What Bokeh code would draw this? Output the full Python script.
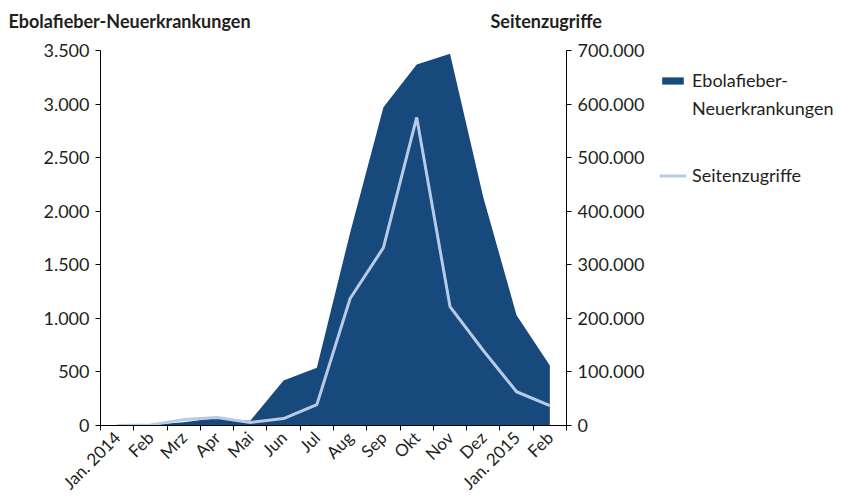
import math
from bokeh.plotting import figure
from bokeh.layouts import column, row
from bokeh.models import (Range1d, LinearAxis, FixedTicker, Legend, LegendItem, Label)
from bokeh.embed import file_html
from bokeh.resources import INLINE

months = ["Jan. 2014", "Feb", "Mrz", "Apr", "Mai", "Jun", "Jul", "Aug", "Sep",
          "Okt", "Nov", "Dez", "Jan. 2015", "Feb"]
cases = [0, 5, 30, 70, 45, 420, 540, 1800, 2970, 3370, 3470, 2130, 1030, 560]
views = [0, 1000, 11000, 15000, 5500, 13000, 39000, 237000, 332000, 575000,
         222000, 140000, 63000, 37000]
left_ticks = [0, 500, 1000, 1500, 2000, 2500, 3000, 3500]
left_labels = ["0", "500", "1.000", "1.500", "2.000", "2.500", "3.000", "3.500"]
right_ticks = [0, 100000, 200000, 300000, 400000, 500000, 600000, 700000]
right_labels = ["0", "100.000", "200.000", "300.000", "400.000", "500.000",
                "600.000", "700.000"]
series_name_lines = ["Ebolafieber-", "Neuerkrankungen"]
series2_name = "Seitenzugriffe"
left_title = "Ebolafieber-Neuerkrankungen"
right_title = "Seitenzugriffe"

FONT = "Lato"
FS = "18px"
TXT = "#231f20"
AREA = "#18497d"
LINE = "#b7cbe6"
TOTAL_W = 838
TOP_H = 38

n = len(months)
xs = [i + 0.5 for i in range(n)]


def bare(fig):
    fig.outline_line_color = None
    fig.background_fill_color = "white"
    fig.border_fill_color = "white"
    fig.xgrid.visible = False
    fig.ygrid.visible = False


# ---- title strip -------------------------------------------------------
top = figure(width=TOTAL_W, height=TOP_H, output_backend="svg",
             toolbar_location=None, x_axis_type=None, y_axis_type=None,
             x_range=Range1d(0, 1), y_range=Range1d(0, 1),
             min_border=0)
bare(top)
top.add_layout(Label(x=8, y=TOP_H - 20, x_units="screen", y_units="screen",
                     text=left_title, text_font=FONT, text_baseline="alphabetic",
                     text_font_size=FS, text_font_style="bold", text_color=TXT))
top.add_layout(Label(x=490, y=TOP_H - 20, x_units="screen", y_units="screen",
                     text=right_title, text_font=FONT, text_baseline="alphabetic",
                     text_font_size=FS, text_font_style="bold", text_color=TXT))

# ---- main chart --------------------------------------------------------
p = figure(frame_width=466, frame_height=375, output_backend="svg",
           toolbar_location=None, x_range=Range1d(0, n),
           y_range=Range1d(left_ticks[0], left_ticks[-1]),
           min_border_left=100, min_border_top=12,
           min_border_bottom=70, min_border_right=80)
bare(p)
p.extra_y_ranges = {"views": Range1d(right_ticks[0], right_ticks[-1])}

area = p.varea(x=xs, y1=0, y2=cases, fill_color=AREA)
line = p.line(x=xs, y=views, y_range_name="views", line_color=LINE, line_width=3)

ya = p.yaxis[0]
ya.ticker = FixedTicker(ticks=left_ticks, minor_ticks=[])
ya.major_label_overrides = {t: l for t, l in zip(left_ticks, left_labels)}

ra = LinearAxis(y_range_name="views")
ra.ticker = FixedTicker(ticks=right_ticks, minor_ticks=[])
ra.major_label_overrides = {t: l for t, l in zip(right_ticks, right_labels)}
p.add_layout(ra, "right")

xa = p.xaxis[0]
xa.ticker = FixedTicker(ticks=xs, minor_ticks=list(range(n + 1)))
xa.major_label_overrides = {x: m for x, m in zip(xs, months)}
xa.major_label_orientation = math.pi / 4

for ax in (ya, ra, xa):
    ax.axis_line_color = "black"
    ax.axis_line_width = 1
    ax.major_label_text_font = FONT
    ax.major_label_text_font_size = FS
    ax.major_label_text_color = TXT
    ax.major_tick_in = 0
    ax.major_tick_out = 5
    ax.major_label_standoff = 6
ya.major_tick_line_color = "black"
ra.major_tick_line_color = "black"
xa.major_tick_line_color = None
xa.minor_tick_out = 5
xa.minor_tick_in = 0
xa.minor_tick_line_color = "black"
xa.major_label_standoff = 4
xa.major_label_text_font_size = "17px"

# ---- legend panel ------------------------------------------------------
# sample renderers use the real series but lie outside this panel's view,
# so only the legend swatches show
lg = figure(width=TOTAL_W - 646, frame_height=375, output_backend="svg",
            toolbar_location=None, x_axis_type=None, y_axis_type=None,
            x_range=Range1d(-2, -1), y_range=Range1d(-2, -1),
            min_border_left=0, min_border_top=12, min_border_right=0,
            min_border_bottom=0)
bare(lg)
lg_area = lg.varea(x=xs, y1=0, y2=cases, fill_color=AREA)
lg_line = lg.line(x=xs, y=views, line_color=LINE, line_width=3)
lg_blank = lg.line(x=xs, y=views, line_alpha=0)


def style(leg, spacing):
    leg.label_text_font = FONT
    leg.label_text_font_size = FS
    leg.label_text_color = TXT
    leg.glyph_width = 27
    leg.glyph_height = 9
    leg.label_standoff = 6
    leg.spacing = spacing
    leg.border_line_color = None
    leg.background_fill_alpha = 0
    leg.margin = 0
    leg.padding = 0


legend1 = Legend(items=[
    LegendItem(label=series_name_lines[0], renderers=[lg_area]),
    LegendItem(label=series_name_lines[1], renderers=[lg_blank]),
], location=(12, 306))
style(legend1, 6)
legend2 = Legend(items=[
    LegendItem(label=series2_name, renderers=[lg_line]),
], location=(12, 239))
style(legend2, 0)
lg.add_layout(legend1, "center")
lg.add_layout(legend2, "center")

layout = column(top, row(p, lg))
open("out.html", "w").write(file_html(layout, INLINE))
